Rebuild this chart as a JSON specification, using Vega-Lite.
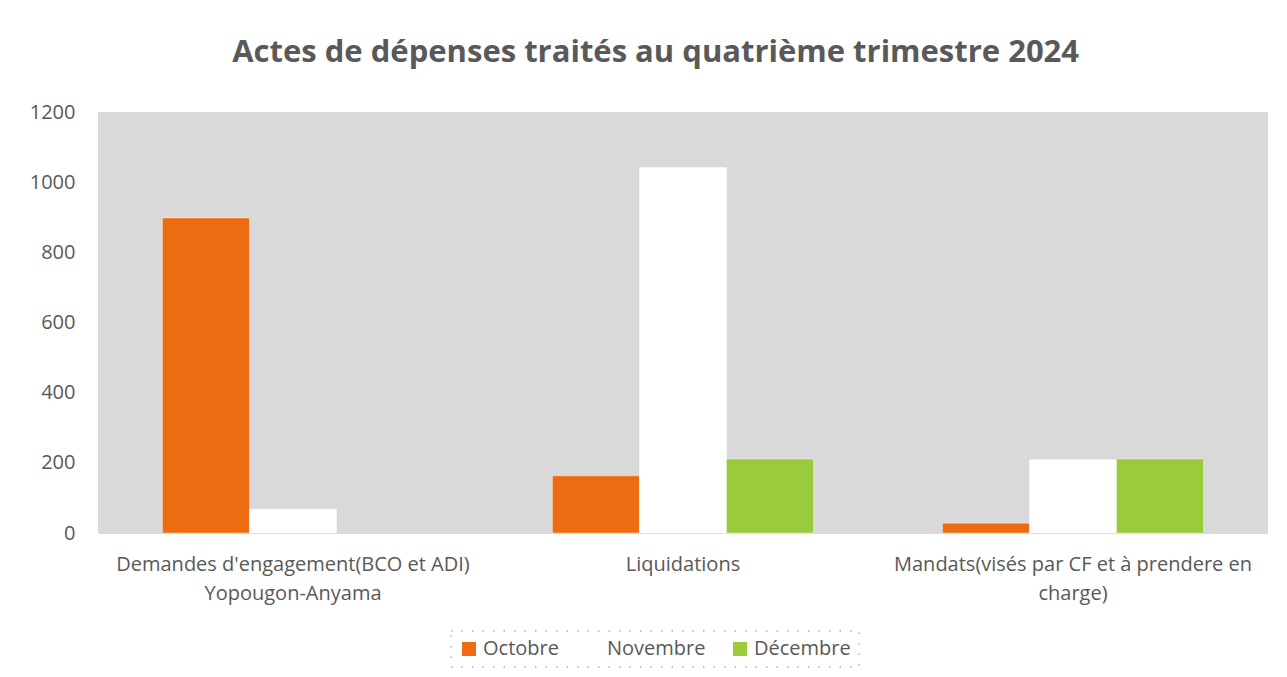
{
  "$schema": "https://vega.github.io/schema/vega-lite/v6.json",
  "width": 1170,
  "height": 421,
  "autosize": {"type": "none"},
  "padding": {"left": 98, "top": 112, "right": 19, "bottom": 144},
  "background": "#ffffff",
  "title": {
    "text": "Actes de dépenses traités au quatrième trimestre 2024",
    "font": "Open Sans",
    "fontSize": 31,
    "fontWeight": "bold",
    "color": "#595959",
    "anchor": "middle",
    "frame": "bounds",
    "offset": 33,
    "dx": 7
  },
  "data": {
    "values": [
      {"categorie": "Demandes d'engagement(BCO et ADI) Yopougon-Anyama", "mois": "Octobre", "valeur": 898},
      {"categorie": "Demandes d'engagement(BCO et ADI) Yopougon-Anyama", "mois": "Novembre", "valeur": 68},
      {"categorie": "Liquidations", "mois": "Octobre", "valeur": 163},
      {"categorie": "Liquidations", "mois": "Novembre", "valeur": 1042},
      {"categorie": "Liquidations", "mois": "Décembre", "valeur": 211},
      {"categorie": "Mandats(visés par CF et à prendere en charge)", "mois": "Octobre", "valeur": 28},
      {"categorie": "Mandats(visés par CF et à prendere en charge)", "mois": "Novembre", "valeur": 209},
      {"categorie": "Mandats(visés par CF et à prendere en charge)", "mois": "Décembre", "valeur": 211}
    ]
  },
  "mark": {"type": "bar", "stroke": "#ffffff", "strokeOpacity": 0.4, "strokeWidth": 1},
  "encoding": {
    "x": {
      "field": "categorie",
      "type": "nominal",
      "sort": null,
      "scale": {"paddingInner": 0, "paddingOuter": 0},
      "axis": {
        "title": null,
        "labelAngle": 0,
        "ticks": false,
        "domain": true,
        "domainColor": "#d9d9d9",
        "labelFont": "Open Sans",
        "labelFontSize": 20,
        "labelColor": "#595959",
        "labelPadding": 21,
        "labelLineHeight": 29,
        "labelLimit": 500,
        "labelExpr": "indexof(datum.label, 'Yopougon') >= 0 ? [\"Demandes d'engagement(BCO et ADI)\", \"Yopougon-Anyama\"] : indexof(datum.label, 'Mandats') >= 0 ? [\"Mandats(visés par CF et à prendere en\", \"charge)\"] : datum.label"
      }
    },
    "xOffset": {
      "field": "mois",
      "type": "nominal",
      "scale": {"domain": ["Octobre", "Novembre", "Décembre"], "paddingInner": 0, "paddingOuter": 0.74}
    },
    "y": {
      "field": "valeur",
      "type": "quantitative",
      "scale": {"domain": [0, 1200], "nice": false},
      "axis": {
        "title": null,
        "values": [0, 200, 400, 600, 800, 1000, 1200],
        "format": "d",
        "grid": false,
        "ticks": false,
        "domain": false,
        "labelFont": "Open Sans",
        "labelFontSize": 20,
        "labelColor": "#595959",
        "labelPadding": 23
      }
    },
    "color": {
      "field": "mois",
      "type": "nominal",
      "scale": {"domain": ["Octobre", "Novembre", "Décembre"], "range": ["#ED6C12", "#FFFFFF", "#9ACB3A"]},
      "legend": {
        "title": null,
        "orient": "none",
        "direction": "horizontal",
        "legendX": 353,
        "legendY": 519,
        "symbolType": "square",
        "symbolSize": 196,
        "symbolStrokeWidth": 0,
        "symbolOpacity": 1,
        "labelFont": "Open Sans",
        "labelFontSize": 20,
        "labelColor": "#595959",
        "labelOffset": 4,
        "columnPadding": 24,
        "padding": 8,
        "strokeColor": "#b0b0b0"
      }
    }
  },
  "config": {
    "view": {"fill": "#D9D9D9", "stroke": null},
    "legend": {"strokeDash": {"expr": "[1.5, 9]"}, "strokeWidth": 1.5}
  }
}
